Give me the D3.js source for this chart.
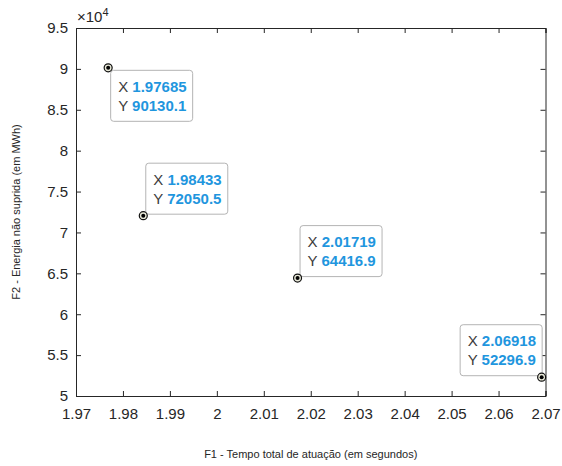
<!DOCTYPE html>
<html><head><meta charset="utf-8">
<script src="https://cdn.jsdelivr.net/npm/d3@7"></script>
<style>body{margin:0;background:#fff}svg{display:block}text{font-family:"Liberation Sans",Arial,sans-serif}</style>
</head><body>
<svg id="c" width="562" height="466"></svg>
<script>
const xVals = [1.97685, 1.98433, 2.01719, 2.06918];
const yVals = [90130.1, 72050.5, 64416.9, 52296.9];
const xLabels = ["1.97685", "1.98433", "2.01719", "2.06918"];
const yLabels = ["90130.1", "72050.5", "64416.9", "52296.9"];
const xTicks = [1.97,1.98,1.99,2,2.01,2.02,2.03,2.04,2.05,2.06,2.07];
const yTicks = [5,5.5,6,6.5,7,7.5,8,8.5,9,9.5].map(v=>v*1e4);
const tipDir = ["br","tr","tr","tl"];

const svg = d3.select("#c");
const L=76, R=545.5, T=28, B=396;
const x = d3.scaleLinear().domain([1.97,2.07]).range([L,R]);
const y = d3.scaleLinear().domain([5e4,9.5e4]).range([B,T]);
const ink="#262626";

svg.append("rect").attr("x",L).attr("y",T).attr("width",R-L).attr("height",B-T).attr("fill","#fff");

const fmtX = d=>String(+d.toFixed(2));
const fmtY = d=>String(+(d/1e4).toFixed(1));

const ax = svg.append("g").attr("transform",`translate(0,${B})`)
  .call(d3.axisBottom(x).tickValues(xTicks).tickSize(-5).tickPadding(14).tickFormat(fmtX));
const axT = svg.append("g").attr("transform",`translate(0,${T})`)
  .call(d3.axisTop(x).tickValues(xTicks).tickSize(-5).tickFormat(""));
const ay = svg.append("g").attr("transform",`translate(${L},0)`)
  .call(d3.axisLeft(y).tickValues(yTicks).tickSize(-5).tickPadding(8).tickFormat(fmtY));
const ayR = svg.append("g").attr("transform",`translate(${R},0)`)
  .call(d3.axisRight(y).tickValues(yTicks).tickSize(-5).tickFormat(""));
[ax,axT,ay,ayR].forEach(g=>{
  g.selectAll("path,line").attr("stroke",ink).attr("stroke-width",1);
  g.selectAll("text").attr("fill",ink).style("font-size","15px").style("font-family","'Liberation Sans',Arial,sans-serif");
});
ax.selectAll("text").attr("dy","0.6em");

// exponent
const ex = svg.append("text").attr("x",77).attr("y",22).attr("fill",ink).style("font-size","15px");
ex.append("tspan").text("×10");
ex.append("tspan").attr("dy",-6).style("font-size","11px").text("4");

svg.append("text").attr("x",(L+R)/2).attr("y",458).attr("text-anchor","middle")
  .attr("fill",ink).style("font-size","11px").text("F1 - Tempo total de atuação (em segundos)");
svg.append("text").attr("transform","translate(20,212) rotate(-90)").attr("text-anchor","middle")
  .attr("fill",ink).style("font-size","11px").text("F2 - Energia não suprida (em MWh)");

// data tips
const bw=82, bh=51;
xVals.forEach((xv,i)=>{
  const px=x(xv), py=y(yVals[i]);
  const d=tipDir[i];
  let bx = d[1]==="r" ? px+2 : px-bw;
  let by = d[0]==="b" ? py+2 : py-bh-2;
  const g = svg.append("g");
  g.append("rect").attr("x",bx+0.5).attr("y",by+0.5).attr("width",bw).attr("height",bh).attr("rx",3)
    .attr("fill","#fff").attr("stroke","#b4b4b4");
  const t1 = g.append("text").attr("x",bx+8).attr("y",by+22).style("font-size","15px");
  t1.append("tspan").attr("fill","#3c3c3c").text("X ");
  t1.append("tspan").attr("fill","#1f96de").attr("font-weight","bold").text(xLabels[i]);
  const t2 = g.append("text").attr("x",bx+8).attr("y",by+41).style("font-size","15px");
  t2.append("tspan").attr("fill","#3c3c3c").text("Y ");
  t2.append("tspan").attr("fill","#1f96de").attr("font-weight","bold").text(yLabels[i]);
  svg.append("circle").attr("cx",px).attr("cy",py).attr("r",4).attr("fill","#e8e8d8").attr("stroke","#111").attr("stroke-width",1.2);
  svg.append("circle").attr("cx",px).attr("cy",py).attr("r",2).attr("fill","#000");
});
</script>
</body></html>
